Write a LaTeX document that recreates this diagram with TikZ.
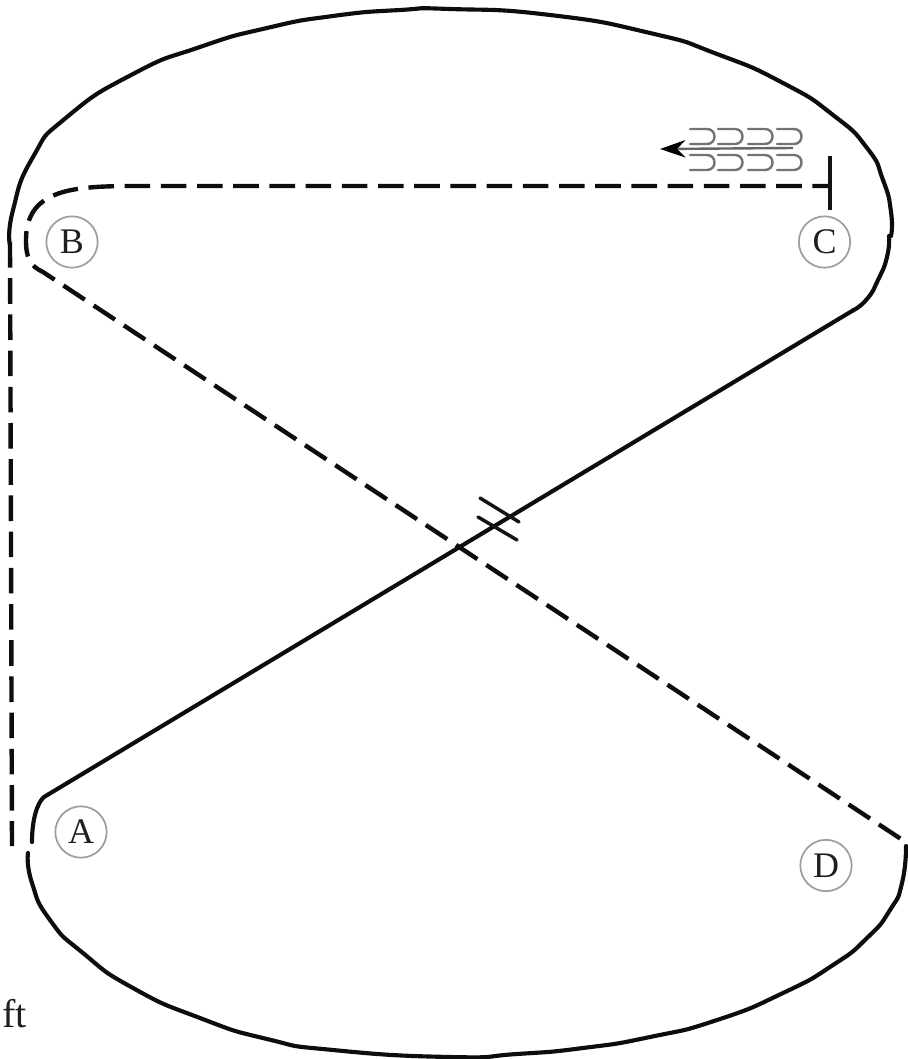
\documentclass[tikz,border=0pt]{standalone}
\usepackage{fontspec}
\setmainfont{Liberation Serif}
\usetikzlibrary{arrows.meta}
\tikzset{
  solidline/.style={line width=3.1pt,black!95,line cap=round,line join=round},
  dashline/.style={line width=3.3pt,black!95,dash pattern=on 19.2pt off 7.95pt},
  hatch/.style={line width=2.6pt,black!92,line cap=round},
  station/.style={circle,draw=black!38,line width=1.3pt,minimum size=38.5pt,inner sep=0pt,font=\fontsize{27}{27}\selectfont,text=black!88},
  cup/.style={line width=1.8pt,black!55,line cap=round},
  run/.style={line width=1.8pt,black!60},
}
\begin{document}
\begin{tikzpicture}[x=0.75pt,y=-0.75pt]
\useasboundingbox (0,0) rectangle (907,1059);
% named points
\coordinate (crossUp) at (853,310.4);
\coordinate (crossLow) at (44,797);
\coordinate (leftTop) at (10,242);
\coordinate (leftEnd) at (12,846);
\coordinate (tee) at (830,186);
\coordinate (teeA) at (830,156);
\coordinate (teeB) at (830,210);
\coordinate (bendEnd) at (123,186);
\coordinate (bendLow) at (43,272);
\coordinate (dashEnd) at (907,843);
% solid outline
\draw[solidline] plot[smooth,tension=1] coordinates {(10,245) (13,210) (33,157) (67,117) (133,74) (200,47) (267,28) (333,16) (400,10) (450,9) (550,15) (650,33) (717,54) (783,83) (833,115) (867,148) (883,180) (891,212) (891,236)};
\draw[solidline] plot[smooth,tension=1] coordinates {(889,236) (887,257) (878,280) (867,299) (crossUp)};
\draw[solidline] (crossUp) -- (crossLow) .. controls (37,803) and (32,820) .. (32,842);
\draw[solidline] plot[smooth,tension=1] coordinates {(28,853) (32,883) (50,920) (83,953) (133,988) (200,1018) (267,1039) (333,1050) (450,1057) (517,1054) (583,1048) (650,1037) (717,1020) (783,993) (833,965) (867,938) (890,910) (902,883) (906,846)};
% dashed
\draw[dashline] (leftTop) -- (leftEnd);
\draw[dashline,dash phase=6pt] (tee) -- (bendEnd) .. controls (72,187) and (26,190) .. (26,240)
  .. controls (26,258) and (30,266) .. (bendLow) -- (dashEnd);
% tee
\draw[line width=2.4pt,black!92] (teeA) -- (teeB);
% hatches
\draw[hatch] (480,498) -- (519,522);
\draw[hatch] (478,517) -- (517,540);
% stations
\node[station] (A) at (81,832) {A};
\node[station] (B) at (72,242) {B};
\node[station] (C) at (824.5,242) {C};
\node[station] (D) at (826,865.5) {D};
% arrow
\coordinate (arrS) at (793,148);
\coordinate (arrE) at (660,149);
\draw[run,-{Stealth[length=19pt,width=13pt,black]}] (arrS) -- (arrE);
% cups
\foreach \x/\w in {690/25,718/25,748/25,777/25}{
  \foreach \y in {129,155}{
    \draw[cup] (\x,\y) -- (\x+\w-8,\y) .. controls (\x+\w+2,\y) and (\x+\w+2,\y+15) .. (\x+\w-8,\y+15) -- (\x,\y+15);
  }
}
\node[anchor=base west,inner sep=0pt,font=\fontsize{30}{30}\selectfont,text=black!88] (ft) at (2,1027) {ft};
\end{tikzpicture}
\end{document}
